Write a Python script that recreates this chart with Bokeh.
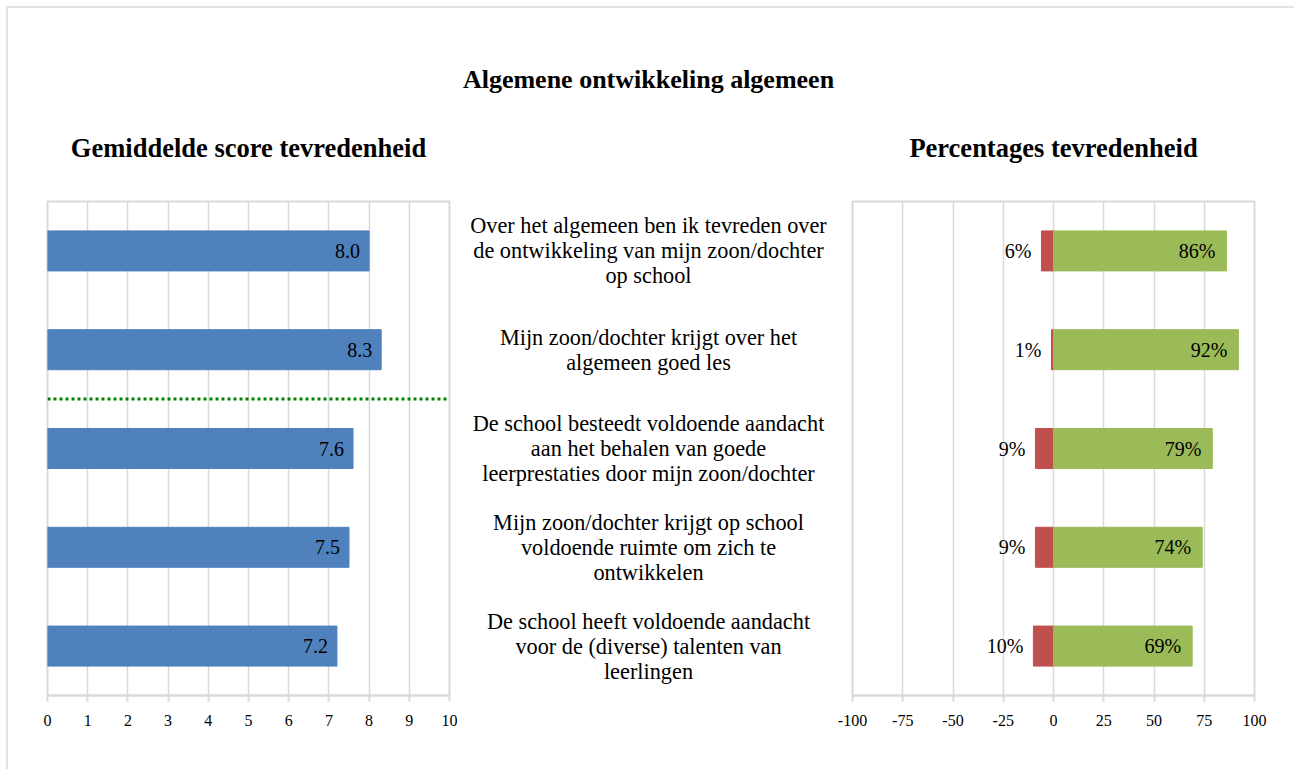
from bokeh.plotting import figure
from bokeh.layouts import row
from bokeh.models import Range1d, Span, Title, ColumnDataSource, FixedTicker
from bokeh.core.properties import value
from bokeh.embed import file_html
from bokeh.resources import INLINE

# ---------------- data ----------------
main_title = "Algemene ontwikkeling algemeen"
left_title = "Gemiddelde score tevredenheid"
right_title = "Percentages tevredenheid"

statements = [
    "Over het algemeen ben ik tevreden over\nde ontwikkeling van mijn zoon/dochter\nop school",
    "Mijn zoon/dochter krijgt over het\nalgemeen goed les",
    "De school besteedt voldoende aandacht\naan het behalen van goede\nleerprestaties door mijn zoon/dochter",
    "Mijn zoon/dochter krijgt op school\nvoldoende ruimte om zich te\nontwikkelen",
    "De school heeft voldoende aandacht\nvoor de (diverse) talenten van\nleerlingen",
]
mean_scores = [8.0, 8.3, 7.6, 7.5, 7.2]
pct_dissatisfied = [6, 1, 9, 9, 10]
pct_satisfied = [86, 92, 79, 74, 69]
separator_after = 2  # dotted line drawn after the 2nd statement

score_ticks = list(range(0, 11))
pct_ticks = [-100, -75, -50, -25, 0, 25, 50, 75, 100]

# ---------------- styling ----------------
FONT = value("Liberation Serif")
BLUE = "#4F81BD"
RED = "#C0504D"
GREEN = "#9BBB59"
GRID = "#D9D9D9"
BAR_H = 0.405

n = len(statements)
ypos = [n - i for i in range(n)]
yr = Range1d(0.5, n + 0.5)

FIG_H = 761
TOP = 193
BOTTOM = 74


def style_bar_fig(p, ticks):
    p.outline_line_color = GRID
    p.outline_line_width = 2
    p.ygrid.grid_line_color = None
    p.xgrid.grid_line_color = GRID
    p.xgrid.grid_line_width = 1.5
    ax = p.xaxis[0]
    ax.ticker = FixedTicker(ticks=ticks)
    ax.major_label_overrides = {t: str(t) for t in ticks}
    ax.axis_line_color = GRID
    ax.axis_line_width = 2
    ax.major_tick_line_color = GRID
    ax.major_tick_line_width = 2
    ax.major_tick_out = 6
    ax.major_tick_in = 0
    ax.minor_tick_line_color = None
    ax.major_label_standoff = 13
    ax.major_label_text_font = "Liberation Serif"
    ax.major_label_text_font_size = "16px"
    ax.major_label_text_color = "#000000"
    p.background_fill_color = "white"
    p.border_fill_color = "white"


def make_title(text, standoff, size="26.5px"):
    return Title(text=text, align="center",
                 text_font="Liberation Serif", text_font_size=size,
                 text_font_style="bold", text_color="#000000",
                 standoff=standoff)


# ---------------- left: mean score ----------------
src_l = ColumnDataSource(dict(y=ypos, score=mean_scores,
                              lbl=[f"{v:.1f}" for v in mean_scores]))
pl = figure(width=452, height=FIG_H, x_range=Range1d(0, 10), y_range=yr,
            y_axis_location=None, toolbar_location=None, output_backend="svg",
            min_border_left=39, min_border_right=11, min_border_top=TOP,
            min_border_bottom=BOTTOM)
style_bar_fig(pl, score_ticks)
pl.hbar(y="y", left=0, right="score", height=BAR_H, color=BLUE, source=src_l)
pl.text(x="score", y="y", text="lbl", x_offset=-9, text_align="right",
        text_baseline="middle", text_font=FONT, text_font_size="20px",
        text_color="#000000", source=src_l)
pl.add_layout(Span(location=n - separator_after + 0.5, dimension="width",
                   line_color="#008000", line_width=3, line_dash="3 3"))
pl.title = make_title(left_title, 77)

# ---------------- middle: statements ----------------
src_m = ColumnDataSource(dict(y=ypos, txt=statements, x=[0.5] * n))
pm = figure(width=376, height=FIG_H, x_range=Range1d(0, 1), y_range=yr,
            x_axis_location=None, y_axis_location=None, toolbar_location=None,
            output_backend="svg", min_border_left=0, min_border_right=0,
            min_border_top=TOP, min_border_bottom=BOTTOM)
pm.outline_line_color = None
pm.grid.grid_line_color = None
pm.text(x="x", y="y", text="txt", text_align="center", text_baseline="middle",
        text_font=FONT, text_font_size="22.3px", text_line_height=1.0,
        text_color="#000000", source=src_m)
# main title is the outermost panel; a blank spacer title sits below it
pm.title = make_title(main_title, 0, "26px")
pm.add_layout(make_title(" ", 77, "26px"), "above")

# ---------------- right: percentages ----------------
src_r = ColumnDataSource(dict(
    y=ypos,
    neg=[-v for v in pct_dissatisfied],
    pos=pct_satisfied,
    neg_lbl=[f"{v}%" for v in pct_dissatisfied],
    pos_lbl=[f"{v}%" for v in pct_satisfied],
))
pr = figure(width=458, height=FIG_H, x_range=Range1d(-100, 100), y_range=yr,
            y_axis_location=None, toolbar_location=None, output_backend="svg",
            min_border_left=16, min_border_right=40, min_border_top=TOP,
            min_border_bottom=BOTTOM)
style_bar_fig(pr, pct_ticks)
pr.hbar(y="y", left="neg", right=0, height=BAR_H, color=RED, source=src_r)
pr.hbar(y="y", left=0, right="pos", height=BAR_H, color=GREEN, source=src_r)
pr.text(x="neg", y="y", text="neg_lbl", x_offset=-10, text_align="right",
        text_baseline="middle", text_font=FONT, text_font_size="20px",
        text_color="#000000", source=src_r)
pr.text(x="pos", y="y", text="pos_lbl", x_offset=-11, text_align="right",
        text_baseline="middle", text_font=FONT, text_font_size="20px",
        text_color="#000000", source=src_r)
pr.title = make_title(right_title, 77)

layout = row(pl, pm, pr, spacing=0, margin=(6, 0, 0, 6),
             styles={"border-top": "2px solid #E3E3E3",
                     "border-left": "2px solid #E3E3E3"})

open("out.html", "w").write(file_html(layout, INLINE))
